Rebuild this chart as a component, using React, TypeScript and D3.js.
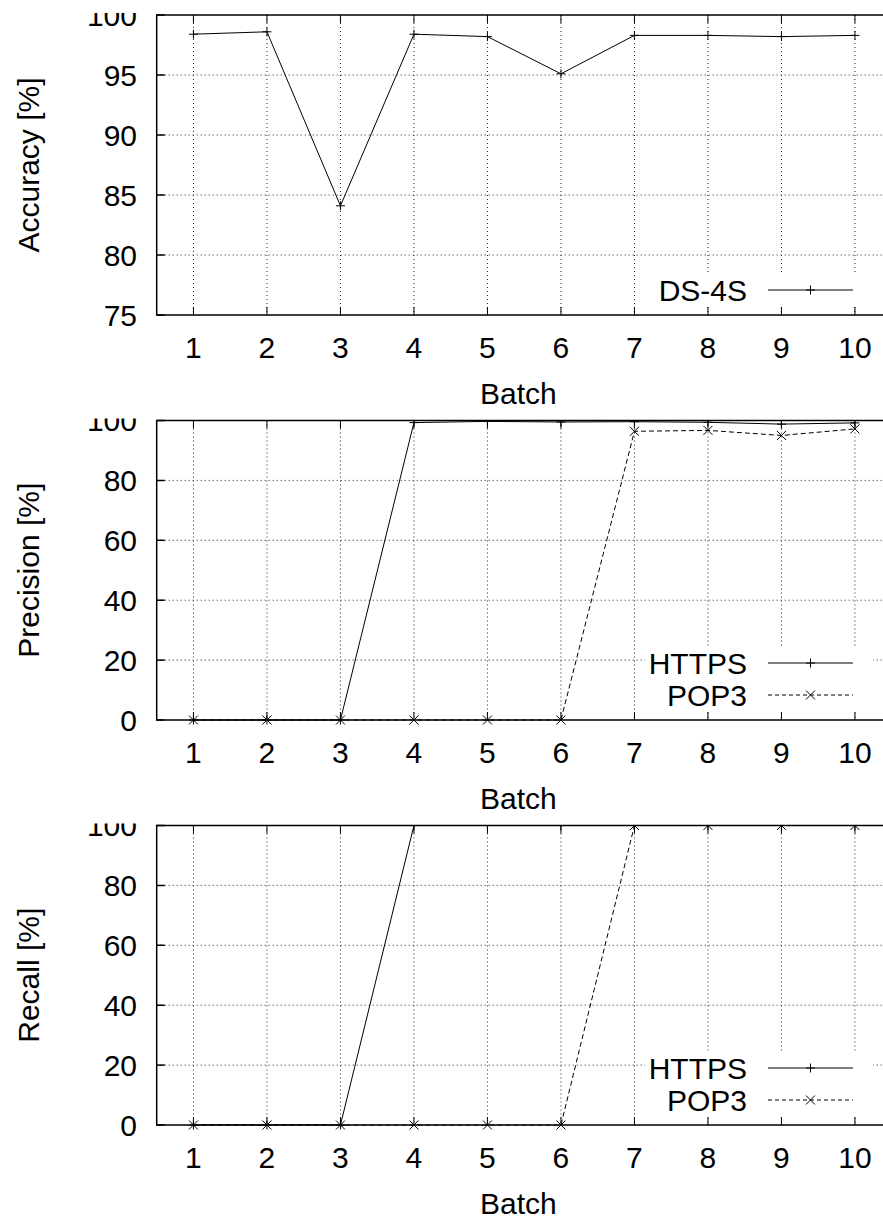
import * as d3 from "d3";
import React from "react";

// batch numbers on the x axis
const batches = [1, 2, 3, 4, 5, 6, 7, 8, 9, 10];

// accuracy of DS-4S per batch [%]
const accuracyDS4S = [98.4, 98.6, 84.1, 98.4, 98.2, 95.1, 98.3, 98.3, 98.2, 98.3];

// precision per batch [%]
const precisionHTTPS = [0, 0, 0, 99.3, 99.7, 99.5, 99.6, 99.4, 98.8, 99.2];
const precisionPOP3 = [0, 0, 0, 0, 0, 0, 96.4, 96.7, 95.0, 97.2];

// recall per batch [%]
const recallHTTPS = [0, 0, 0, 100, 100, 100, 100, 100, 100, 100];
const recallPOP3 = [0, 0, 0, 0, 0, 0, 100, 100, 100, 100];

const accuracyTicks = [75, 80, 85, 90, 95, 100];
const percentTicks = [0, 20, 40, 60, 80, 100];

type Series = { name: string; values: number[]; dashed: boolean; marker: "plus" | "cross" };

const W = 883;
const H = 1218;
const FONT = "'Liberation Sans', Arial, Helvetica, sans-serif";
const FS = 30;

const x = d3.scaleLinear().domain([0.5, 10.5]).range([156.7, 891.7]);

const Marker: React.FC<{ kind: "plus" | "cross"; cx: number; cy: number }> = ({ kind, cx, cy }) => {
    const r = 4.5;
    const d = kind === "plus"
        ? `M${cx - r},${cy}H${cx + r}M${cx},${cy - r}V${cy + r}`
        : `M${cx - r},${cy - r}L${cx + r},${cy + r}M${cx - r},${cy + r}L${cx + r},${cy - r}`;
    return <path d={d} stroke="#000" strokeWidth={1} fill="none" />;
};

const Panel: React.FC<{
    id: string; top: number; bottom: number; domain: [number, number];
    ticks: number[]; ylabel: string; series: Series[];
}> = ({ id, top, bottom, domain, ticks, ylabel, series }) => {
    const y = d3.scaleLinear().domain(domain).range([bottom, top]);
    const left = x.range()[0];
    const right = x.range()[1];
    const line = d3.line<number>().x((_, i) => x(batches[i])).y(v => y(v));
    const legendY = series.map((_, i) => bottom - 25 - (series.length - 1 - i) * 32);
    return (
        <g>
            <defs>
                <clipPath id={`clip-${id}`}>
                    <rect x={0} y={top - 2} width={W} height={H} />
                </clipPath>
                <clipPath id={`plot-${id}`}>
                    <rect x={0} y={top} width={W} height={bottom - top + 20} />
                </clipPath>
            </defs>
            <g clipPath={`url(#clip-${id})`}>
                {/* grid */}
                {ticks.filter(t => t !== domain[0] && t !== domain[1]).map(t => (
                    <line key={`h${t}`} x1={left} x2={right} y1={y(t)} y2={y(t)} stroke="#222" strokeDasharray="1,3" />
                ))}
                {batches.map(b => (
                    <line key={`v${b}`} x1={x(b)} x2={x(b)} y1={top} y2={bottom} stroke="#222" strokeDasharray="1,3" />
                ))}

                {/* data */}
                <g clipPath={`url(#plot-${id})`}>
                    {series.map(s => (
                        <g key={s.name}>
                            <path d={line(s.values) ?? undefined} fill="none" stroke="#000" strokeWidth={1}
                                strokeDasharray={s.dashed ? "5,3" : undefined} />
                            {s.values.map((v, i) => <Marker key={i} kind={s.marker} cx={x(batches[i])} cy={y(v)} />)}
                        </g>
                    ))}
                </g>

                {/* legend */}
                <rect x={645} y={legendY[0] - 16} width={228} height={legendY[legendY.length - 1] - legendY[0] + 32} fill="#fff" />
                {series.map((s, i) => (
                    <g key={s.name}>
                        <text x={747} y={legendY[i]} dy="0.35em" textAnchor="end" fontSize={FS} fontFamily={FONT}>{s.name}</text>
                        <line x1={768} x2={853} y1={legendY[i]} y2={legendY[i]} stroke="#000"
                            strokeDasharray={s.dashed ? "4,3" : undefined} />
                        <Marker kind={s.marker} cx={810.5} cy={legendY[i]} />
                    </g>
                ))}

                {/* frame and ticks */}
                <path d={`M${right},${top}H${left}V${bottom}H${right}`} fill="none" stroke="#000" strokeWidth={1.5} />
                {ticks.map(t => (
                    <g key={`yt${t}`}>
                        <line x1={left} x2={left + 8} y1={y(t)} y2={y(t)} stroke="#000" strokeWidth={1.5} />
                        <text x={137} y={y(t)} dy="0.35em" textAnchor="end" fontSize={FS} fontFamily={FONT}>{t}</text>
                    </g>
                ))}
                {batches.map(b => (
                    <g key={`xt${b}`}>
                        <line x1={x(b)} x2={x(b)} y1={bottom} y2={bottom - 8} stroke="#000" strokeWidth={1} />
                        <line x1={x(b)} x2={x(b)} y1={top} y2={top + 8} stroke="#000" strokeWidth={1} />
                        <text x={x(b)} y={bottom + 32} dy="0.35em" textAnchor="middle" fontSize={FS} fontFamily={FONT}>{b}</text>
                    </g>
                ))}
                <text x={(left + 880) / 2} y={bottom + 78} dy="0.35em" textAnchor="middle" fontSize={FS} fontFamily={FONT}>Batch</text>
                <text transform={`translate(28,${(top + bottom) / 2}) rotate(-90)`} dy="0.35em" textAnchor="middle"
                    fontSize={FS} fontFamily={FONT}>{ylabel}</text>
            </g>
        </g>
    );
};

export default function App() {
    return (
        <div style={{ position: "absolute", left: 0, top: 0 }}>
            <svg width={W} height={H} viewBox={`0 0 ${W} ${H}`} style={{ display: "block", background: "#fff" }}>
                <Panel id="acc" top={15} bottom={315} domain={[75, 100]} ticks={accuracyTicks} ylabel="Accuracy [%]"
                    series={[{ name: "DS-4S", values: accuracyDS4S, dashed: false, marker: "plus" }]} />
                <Panel id="prec" top={420.5} bottom={720} domain={[0, 100]} ticks={percentTicks} ylabel="Precision [%]"
                    series={[
                        { name: "HTTPS", values: precisionHTTPS, dashed: false, marker: "plus" },
                        { name: "POP3", values: precisionPOP3, dashed: true, marker: "cross" },
                    ]} />
                <Panel id="rec" top={825.5} bottom={1125} domain={[0, 100]} ticks={percentTicks} ylabel="Recall [%]"
                    series={[
                        { name: "HTTPS", values: recallHTTPS, dashed: false, marker: "plus" },
                        { name: "POP3", values: recallPOP3, dashed: true, marker: "cross" },
                    ]} />
            </svg>
        </div>
    );
}
